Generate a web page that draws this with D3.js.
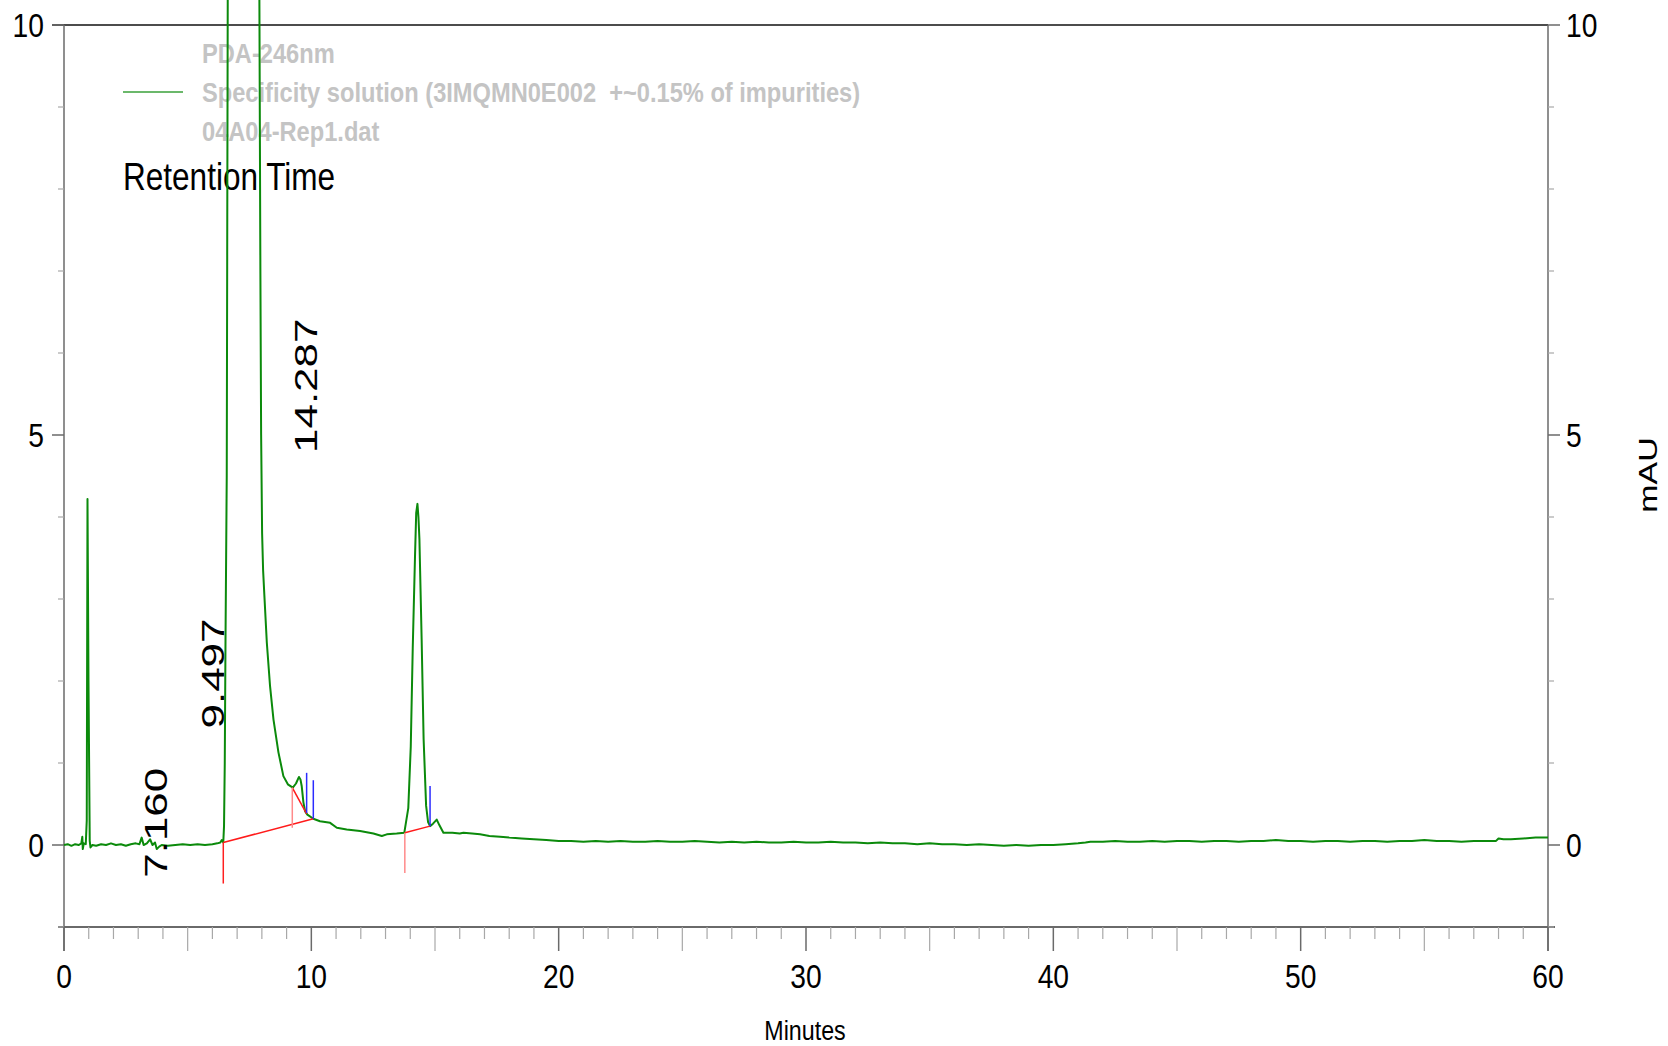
<!DOCTYPE html>
<html>
<head>
<meta charset="utf-8">
<script src="https://cdn.jsdelivr.net/npm/d3@7"></script>
<style>
  body { margin: 0; background: #fff; }
  text { font-family: "Liberation Sans", Arial, sans-serif; }
</style>
</head>
<body>
<div id="chart"></div>
<script>
// tick values
var xTicksMajor = [0, 10, 20, 30, 40, 50, 60];
var yTicksMajor = [0, 5, 10];

// legend texts
var legendLines = ["PDA-246nm", "Specificity solution (3IMQMN0E002  +~0.15% of impurities)", "04A04-Rep1.dat"];

// chromatogram trace, [minutes, mAU]
var trace = [
  [0.00, 0.00], [0.15, 0.01], [0.30, -0.01], [0.45, 0.01], [0.60, 0.00], [0.70, 0.02], [0.74, 0.10], [0.76, -0.05],
  [0.80, 0.02], [0.88, 0.01], [0.92, 0.30], [0.95, 4.22], [0.99, 2.00], [1.04, 0.05], [1.07, -0.03], [1.15, 0.00],
  [1.30, -0.01], [1.50, 0.01], [1.70, 0.00], [1.90, 0.02], [2.10, 0.00], [2.30, 0.01], [2.50, -0.01], [2.70, 0.01],
  [2.90, 0.02], [3.05, 0.01], [3.14, 0.09], [3.22, 0.00], [3.35, 0.02], [3.48, 0.07], [3.58, 0.00], [3.68, 0.03],
  [3.75, -0.05], [3.85, -0.02], [3.95, 0.00], [4.20, -0.01], [4.50, 0.00], [4.80, 0.01], [5.10, 0.00], [5.40, 0.01],
  [5.70, 0.00], [6.00, 0.01], [6.20, 0.02], [6.32, 0.03], [6.38, 0.06], [6.44, 0.03], [6.47, 0.23], [6.50, 1.00],
  [6.53, 2.50], [6.58, 4.50], [6.62, 10.3], [7.20, 25.0], [7.90, 10.3], [7.94, 7.00], [7.97, 5.00], [8.01, 3.80],
  [8.05, 3.35], [8.10, 3.05], [8.20, 2.47], [8.33, 1.94], [8.47, 1.53], [8.67, 1.13], [8.87, 0.84], [9.05, 0.74],
  [9.25, 0.70], [9.38, 0.75], [9.50, 0.83], [9.56, 0.80], [9.61, 0.72], [9.68, 0.52], [9.75, 0.41], [9.84, 0.37],
  [10.08, 0.32], [10.35, 0.29], [10.76, 0.27], [11.03, 0.21], [11.43, 0.19], [11.97, 0.17], [12.51, 0.14], [12.85, 0.11],
  [13.05, 0.13], [13.45, 0.14], [13.76, 0.15], [13.92, 0.45], [14.02, 1.20], [14.10, 2.40], [14.19, 3.50], [14.24, 4.05],
  [14.29, 4.16], [14.33, 4.00], [14.37, 3.73], [14.46, 2.51], [14.54, 1.29], [14.64, 0.48], [14.72, 0.28], [14.80, 0.23],
  [14.92, 0.26], [15.07, 0.31], [15.18, 0.24], [15.34, 0.15], [15.70, 0.15], [16.00, 0.14], [16.15, 0.15], [16.50, 0.14],
  [16.82, 0.13], [17.20, 0.11], [17.63, 0.10], [18.0, 0.09], [18.5, 0.08], [19.0, 0.07], [19.5, 0.06], [20.0, 0.05],
  [20.5, 0.05], [21.0, 0.04], [21.5, 0.05], [22.0, 0.04], [22.5, 0.05], [23.0, 0.04], [23.5, 0.04], [24.0, 0.05],
  [24.5, 0.04], [25.0, 0.04], [25.5, 0.05], [26.0, 0.04], [26.5, 0.03], [27.0, 0.04], [27.5, 0.03], [28.0, 0.04],
  [28.5, 0.03], [29.0, 0.03], [29.5, 0.04], [30.0, 0.03], [30.5, 0.03], [31.0, 0.04], [31.5, 0.03], [32.0, 0.03],
  [32.5, 0.02], [33.0, 0.03], [33.5, 0.02], [34.0, 0.02], [34.5, 0.01], [35.0, 0.02], [35.5, 0.01], [36.0, 0.01],
  [36.5, 0.00], [37.0, 0.01], [37.5, 0.00], [38.0, -0.01], [38.5, 0.00], [39.0, -0.01], [39.5, 0.00], [40.0, 0.00],
  [40.5, 0.01], [41.0, 0.02], [41.3, 0.03], [41.5, 0.04], [42.0, 0.04], [42.5, 0.05], [43.0, 0.04], [43.5, 0.04],
  [44.0, 0.05], [44.5, 0.04], [45.0, 0.05], [45.5, 0.05], [46.0, 0.04], [46.5, 0.05], [47.0, 0.05], [47.5, 0.04],
  [48.0, 0.05], [48.5, 0.05], [49.0, 0.06], [49.5, 0.05], [50.0, 0.05], [50.5, 0.04], [51.0, 0.05], [51.5, 0.05],
  [52.0, 0.04], [52.5, 0.05], [53.0, 0.05], [53.5, 0.04], [54.0, 0.05], [54.5, 0.05], [55.0, 0.06], [55.5, 0.05],
  [56.0, 0.05], [56.5, 0.04], [57.0, 0.05], [57.5, 0.05], [57.9, 0.05], [58.0, 0.08], [58.2, 0.07], [58.5, 0.07],
  [59.0, 0.08], [59.5, 0.09], [60.0, 0.09]
];

// integration marks: [t1, v1, t2, v2]
var baselineSegs = [[6.44, 0.03, 10.08, 0.32], [9.23, 0.70, 9.81, 0.38], [13.78, 0.15, 14.80, 0.23]];
// drop lines: [t, vTop, vBottom]
var dropLines = [[6.44, 0.03, -0.47], [9.23, 0.70, 0.21], [13.78, 0.15, -0.34]];
var peakMarks = [[9.81, 0.39, 0.88], [10.08, 0.32, 0.79], [14.80, 0.23, 0.72]];

// retention time labels (position of text start)
var peakLabelText = ["7.160", "9.497", "14.287"];
var peakLabelTime = [4.15, 6.48, 10.22];
var peakLabelAbs = [-0.40, 1.42, 4.78];

var W = 1668, H = 1046;
var plot = {left: 64, right: 1548, top: 25, bottom: 927};
var sx = 0.83;   // narrow text look

var x = d3.scaleLinear().domain([0, 60]).range([plot.left, plot.right]);
var y = d3.scaleLinear().domain([-1, 10]).range([plot.bottom, plot.top]);

var svg = d3.select("#chart").append("svg")
    .attr("width", W).attr("height", H);

var axisGray = "#6a6a6a", minorGray = "#a8a8a8";

// frame
svg.append("line").attr("x1", 52).attr("x2", plot.right).attr("y1", plot.top).attr("y2", plot.top)
    .attr("stroke", "#111").attr("stroke-width", 1.5);
svg.append("line").attr("x1", plot.left).attr("x2", plot.left).attr("y1", plot.top).attr("y2", plot.bottom + 24)
    .attr("stroke", axisGray).attr("stroke-width", 1.5);
svg.append("line").attr("x1", plot.right).attr("x2", plot.right).attr("y1", plot.top).attr("y2", plot.bottom + 24)
    .attr("stroke", axisGray).attr("stroke-width", 1.5);
svg.append("line").attr("x1", plot.left - 6).attr("x2", plot.right + 7).attr("y1", plot.bottom).attr("y2", plot.bottom)
    .attr("stroke", axisGray).attr("stroke-width", 2);

// y ticks both sides
var yMinor = d3.range(-1, 11).filter(function(v) { return v % 5 != 0; });
[{x0: plot.left, dir: -1}, {x0: plot.right, dir: 1}].forEach(function(s) {
  svg.append("g").selectAll("line").data(yMinor).enter().append("line")
    .attr("x1", s.x0).attr("x2", s.x0 + s.dir * 6)
    .attr("y1", function(d) { return y(d); }).attr("y2", function(d) { return y(d); })
    .attr("stroke", minorGray).attr("stroke-width", 1.2);
  svg.append("g").selectAll("line").data(yTicksMajor).enter().append("line")
    .attr("x1", s.x0).attr("x2", s.x0 + s.dir * 12)
    .attr("y1", function(d) { return y(d); }).attr("y2", function(d) { return y(d); })
    .attr("stroke", axisGray).attr("stroke-width", 1.5);
});

// x ticks
var xMinor = d3.range(0, 61).filter(function(t) { return t % 5 != 0; });
var xMid = d3.range(5, 60, 10);
svg.append("g").selectAll("line").data(xMinor).enter().append("line")
  .attr("x1", function(d) { return x(d); }).attr("x2", function(d) { return x(d); })
  .attr("y1", plot.bottom).attr("y2", plot.bottom + 12)
  .attr("stroke", minorGray).attr("stroke-width", 1.2);
svg.append("g").selectAll("line").data(xMid).enter().append("line")
  .attr("x1", function(d) { return x(d); }).attr("x2", function(d) { return x(d); })
  .attr("y1", plot.bottom).attr("y2", plot.bottom + 24)
  .attr("stroke", minorGray).attr("stroke-width", 1.2);
svg.append("g").selectAll("line").data(xTicksMajor).enter().append("line")
  .attr("x1", function(d) { return x(d); }).attr("x2", function(d) { return x(d); })
  .attr("y1", plot.bottom).attr("y2", plot.bottom + 24)
  .attr("stroke", axisGray).attr("stroke-width", 1.5);

// narrow text helper
function ntext(px, py, str, size, anchor) {
  return svg.append("text")
    .attr("transform", "translate(" + px + "," + py + ") scale(" + sx + ",1)")
    .attr("text-anchor", anchor || "start")
    .style("font-size", size + "px")
    .style("white-space", "pre")
    .text(str);
}

// tick labels
xTicksMajor.forEach(function(t) { ntext(x(t), 988, t, 34, "middle"); });
yTicksMajor.forEach(function(v) {
  ntext(44, y(v) + 12, v, 34, "end");
  ntext(1566, y(v) + 12, v, 34, "start");
});
ntext(805, 1040, "Minutes", 28, "middle");

// mAU, rotated
svg.append("text")
  .attr("transform", "translate(1657,475) scale(0.76,1) rotate(-90)")
  .attr("text-anchor", "middle")
  .style("font-size", "34px")
  .text("mAU");

// legend
svg.append("line").attr("x1", 123).attr("x2", 183).attr("y1", 92).attr("y2", 92)
  .attr("stroke", "#3aa03a").attr("stroke-width", 1.5);
legendLines.forEach(function(s, i) {
  ntext(202, 63 + i * 38.8, s, 28.5, "start").attr("fill", "#c4c4c4").style("font-weight", "bold");
});
ntext(123, 190, "Retention Time", 38, "start").attr("fill", "#000");

// trace
var line = d3.line().x(function(d) { return x(d[0]); }).y(function(d) { return y(d[1]); });
svg.append("path").datum(trace)
  .attr("d", line)
  .attr("fill", "none")
  .attr("stroke", "#0b8a0b")
  .attr("stroke-width", 2)
  .attr("stroke-linejoin", "round");

// integration baselines
svg.append("g").selectAll("line").data(baselineSegs).enter().append("line")
  .attr("x1", function(d) { return x(d[0]); }).attr("y1", function(d) { return y(d[1]); })
  .attr("x2", function(d) { return x(d[2]); }).attr("y2", function(d) { return y(d[3]); })
  .attr("stroke", "#ff1a1a").attr("stroke-width", 1.5);
svg.append("g").selectAll("line").data(dropLines).enter().append("line")
  .attr("x1", function(d) { return x(d[0]); }).attr("x2", function(d) { return x(d[0]); })
  .attr("y1", function(d) { return y(d[1]); }).attr("y2", function(d) { return y(d[2]); })
  .attr("stroke", function(d, i) { return i == 0 ? "#ff2020" : "#ff8a8a"; }).attr("stroke-width", 1.5);
svg.append("g").selectAll("line").data(peakMarks).enter().append("line")
  .attr("x1", function(d) { return x(d[0]); }).attr("x2", function(d) { return x(d[0]); })
  .attr("y1", function(d) { return y(d[1]); }).attr("y2", function(d) { return y(d[2]); })
  .attr("stroke", "#2b2bff").attr("stroke-width", 1.5);

// retention time labels
svg.append("g").selectAll("text").data(peakLabelText).enter().append("text")
  .attr("transform", function(d, i) {
    return "translate(" + x(peakLabelTime[i]) + "," + y(peakLabelAbs[i]) + ") scale(0.73,1) rotate(-90)";
  })
  .style("font-size", "44px")
  .attr("fill", "#000")
  .text(function(d) { return d; });
</script>
</body>
</html>
